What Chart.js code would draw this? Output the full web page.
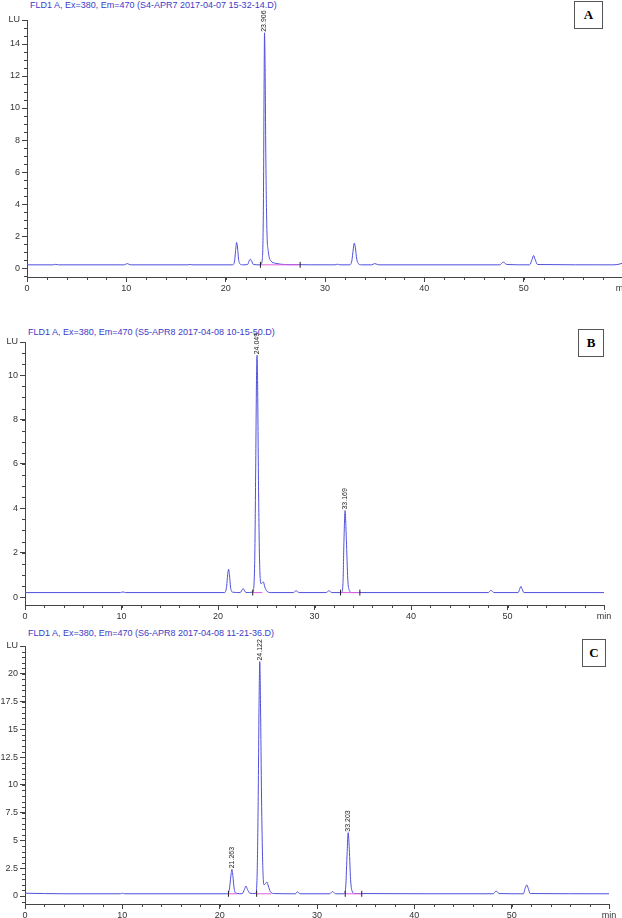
<!DOCTYPE html>
<html>
<head>
<meta charset="utf-8">
<script src="https://cdn.jsdelivr.net/npm/chart.js@4.4.0/dist/chart.umd.min.js"></script>
<style>
  html, body { margin: 0; padding: 0; background: #fff; }
  body { width: 622px; height: 918px; position: relative; overflow: hidden; font-family: "Liberation Sans", Arial, sans-serif; }
  .title { position: absolute; font-size: 9px; line-height: 10px; color: #3b3bc8; white-space: nowrap; }
  .box { position: absolute; border: 1px solid #555; box-sizing: border-box; text-align: center;
         font-family: "Liberation Serif", "Times New Roman", serif; font-weight: bold; font-size: 13px; line-height: 26px; }
  canvas { position: absolute; left: 0; }
</style>
</head>
<body>
<div class="title" style="left:30px;top:0px">FLD1 A, Ex=380, Em=470 (S4-APR7 2017-04-07 15-32-14.D)</div>
<div class="title" style="left:28px;top:327px">FLD1 A, Ex=380, Em=470 (S5-APR8 2017-04-08 10-15-50.D)</div>
<div class="title" style="left:28px;top:628px">FLD1 A, Ex=380, Em=470 (S6-APR8 2017-04-08 11-21-36.D)</div>
<div class="box" style="left:574px;top:1px;width:29px;height:28px">A</div>
<div class="box" style="left:578px;top:329px;width:26px;height:28px">B</div>
<div class="box" style="left:582px;top:639px;width:24px;height:28px">C</div>

<canvas id="chartA" width="632" height="293" style="top:0px"></canvas>
<canvas id="chartB" width="622" height="299" style="top:322px"></canvas>
<canvas id="chartC" width="622" height="294" style="top:626px"></canvas>

<script>
// ---- panel A : S4-APR7 ----
const timeA = [0, 2.6, 2.9, 3.2, 9.8, 10.1, 10.4, 16.2, 16.4, 16.6, 20.7, 20.9, 21.0, 21.1, 21.2, 21.3, 21.45, 21.7,
  22.2, 22.4, 22.5, 22.6, 22.8, 23.5, 23.7, 23.8, 23.87, 23.91, 23.97, 24.05, 24.15, 24.3, 24.55, 25.0, 26.0,
  31.0, 31.25, 31.5, 32.5, 32.7, 32.85, 32.95, 33.05, 33.2, 33.4, 33.7, 34.7, 35.0, 35.4,
  47.6, 47.95, 48.3, 50.6, 50.85, 51.0, 51.15, 51.4, 59.0, 59.6, 60];
const signalA = [0.2, 0.2, 0.23, 0.2, 0.2, 0.28, 0.2, 0.2, 0.23, 0.2, 0.2, 0.45, 1.1, 1.6, 1.25, 0.55, 0.25, 0.2,
  0.22, 0.5, 0.55, 0.45, 0.22, 0.2, 0.6, 4.0, 11.5, 14.7, 12.5, 6.5, 2.4, 1.0, 0.45, 0.3, 0.22,
  0.2, 0.24, 0.2, 0.2, 0.45, 1.2, 1.56, 1.3, 0.55, 0.25, 0.2, 0.2, 0.28, 0.2,
  0.2, 0.37, 0.22, 0.2, 0.55, 0.78, 0.55, 0.22, 0.2, 0.24, 0.32];
const peakLabelsA = ['23.906'];
const integA = [[23.5, 27.5]];
const marksA = [23.5, 27.5];
const yTicksA = [0, 2, 4, 6, 8, 10, 12, 14];
const yTopA = 15.5;

// ---- panel B : S5-APR8 ----
const timeB = [0, 9.9, 10.15, 10.4, 20.7, 20.9, 21.0, 21.1, 21.2, 21.3, 21.5, 22.3, 22.6, 22.9,
  23.6, 23.8, 23.9, 24.0, 24.05, 24.1, 24.2, 24.3, 24.45, 24.6, 24.7, 24.85, 25.1, 25.5,
  27.8, 28.1, 28.4, 31.2, 31.5, 31.8, 32.8, 32.95, 33.05, 33.17, 33.3, 33.45, 33.6, 33.9,
  48.0, 48.3, 48.6, 51.1, 51.3, 51.4, 51.5, 51.7, 60];
const signalB = [0.2, 0.2, 0.23, 0.2, 0.2, 0.5, 1.0, 1.25, 0.95, 0.45, 0.22, 0.2, 0.38, 0.2,
  0.22, 1.5, 5.5, 10.2, 10.9, 9.8, 5.0, 1.8, 0.6, 0.65, 0.68, 0.45, 0.25, 0.2,
  0.2, 0.28, 0.2, 0.2, 0.28, 0.2, 0.2, 0.6, 2.5, 3.9, 2.6, 0.8, 0.3, 0.2,
  0.2, 0.3, 0.2, 0.2, 0.4, 0.48, 0.38, 0.2, 0.2];
const peakLabelsB = ['24.049', '33.169'];
const integB = [[23.6, 24.6], [32.7, 34.7]];
const marksB = [23.6, 32.7, 34.7];
const yTicksB = [0, 2, 4, 6, 8, 10];
const yTopB = 11.5;

// ---- panel C : S6-APR8 ----
const timeC = [0, 4.0, 9.8, 10.0, 10.2, 20.8, 21.0, 21.15, 21.26, 21.38, 21.5, 21.7, 22.3, 22.55, 22.7, 22.85, 23.1,
  23.7, 23.85, 23.95, 24.05, 24.12, 24.2, 24.3, 24.42, 24.55, 24.7, 24.85, 25.0, 25.2, 25.6,
  27.8, 28.0, 28.25, 31.3, 31.6, 31.9, 32.8, 32.95, 33.1, 33.2, 33.32, 33.45, 33.6, 33.9,
  48.1, 48.4, 48.7, 51.2, 51.4, 51.55, 51.7, 51.9, 60];
const signalC = [0.25, 0.2, 0.2, 0.25, 0.2, 0.2, 0.6, 1.8, 2.4, 1.6, 0.6, 0.25, 0.2, 0.6, 0.9, 0.6, 0.25,
  0.22, 2.0, 8.0, 17.5, 21.1, 17.0, 9.0, 3.0, 1.0, 1.1, 1.26, 0.9, 0.4, 0.22,
  0.2, 0.38, 0.2, 0.2, 0.4, 0.2, 0.2, 0.8, 4.0, 5.7, 4.2, 1.5, 0.45, 0.22,
  0.2, 0.45, 0.22, 0.2, 0.75, 1.0, 0.7, 0.22, 0.2];
const peakLabelsC = ['21.263', '24.122', '33.203'];
const integC = [[20.9, 21.8], [23.8, 25.3], [32.9, 34.6]];
const marksC = [20.9, 23.8, 32.9, 34.6];
const yTicksC = [0, 2.5, 5, 7.5, 10, 12.5, 15, 17.5, 20];
const yTopC = 22.5;

const xTicks = [0, 10, 20, 30, 40, 50, 60];
const baseLevel = 0.2;

Chart.defaults.font.family = '"Liberation Sans", Arial, sans-serif';
Chart.defaults.font.size = 9;
Chart.defaults.color = '#333';

const minorTicks = {
  id: 'minorTicks',
  afterDraw(chart, args, opts) {
    const ctx = chart.ctx;
    const x = chart.scales.x, y = chart.scales.y;
    ctx.save();
    ctx.strokeStyle = '#444';
    ctx.lineWidth = 1;
    ctx.beginPath();
    for (let v = Math.ceil(x.min / opts.x) * opts.x; v <= x.max + 1e-9; v += opts.x) {
      const px = Math.round(x.getPixelForValue(v)) + 0.5;
      ctx.moveTo(px, x.top);
      ctx.lineTo(px, x.top + 3);
    }
    for (let v = Math.ceil(y.min / opts.y) * opts.y; v <= y.max + 1e-9; v += opts.y) {
      const py = Math.round(y.getPixelForValue(v)) + 0.5;
      ctx.moveTo(y.right - 3, py);
      ctx.lineTo(y.right, py);
    }
    ctx.stroke();
    ctx.restore();
  }
};

// retention time labels, written upward from each peak apex
const peakLabels = {
  id: 'peakLabels',
  afterDatasetsDraw(chart, args, opts) {
    const ds = chart.data.datasets.find(d => d.label === 'signal');
    const ctx = chart.ctx;
    ctx.save();
    ctx.fillStyle = '#222';
    ctx.font = '7px "Liberation Sans", Arial, sans-serif';
    ctx.textAlign = 'left';
    ctx.textBaseline = 'middle';
    opts.labels.forEach(lbl => {
      const rt = parseFloat(lbl);
      let best = null;
      ds.data.forEach(p => {
        if (Math.abs(p.x - rt) < 0.3 && (!best || p.y > best.y)) best = p;
      });
      const px = chart.scales.x.getPixelForValue(rt);
      const py = chart.scales.y.getPixelForValue(best.y);
      ctx.save();
      ctx.translate(px, py - 1);
      ctx.rotate(-Math.PI / 2);
      ctx.fillText(lbl, 0, 0);
      ctx.restore();
    });
    ctx.restore();
  }
};

function trace(times, values) {
  return times.map((t, i) => ({x: t, y: values[i]}));
}
function segments(ranges) {
  const out = [];
  ranges.forEach(r => {
    out.push({x: r[0], y: baseLevel}, {x: r[1], y: baseLevel}, {x: r[1], y: null});
  });
  return out;
}

function makeChart(id, p) {
  return new Chart(document.getElementById(id), {
    type: 'line',
    data: {
      datasets: [
        {
          label: 'marks',
          data: p.marks.map(t => ({x: t, y: baseLevel})),
          showLine: false,
          pointStyle: 'line',
          pointRotation: 90,
          pointRadius: 3,
          pointBorderColor: '#222',
          pointBorderWidth: 1,
          order: 0
        },
        {
          label: 'baseline',
          data: segments(p.integ),
          borderColor: '#e060e0',
          borderWidth: 1,
          pointRadius: 0,
          spanGaps: false,
          order: 1
        },
        {
          label: 'signal',
          data: trace(p.time, p.signal),
          borderColor: '#5050dc',
          borderWidth: 1,
          pointRadius: 0,
          cubicInterpolationMode: 'monotone',
          order: 2
        }
      ]
    },
    options: {
      responsive: false,
      animation: false,
      events: [],
      layout: {padding: {top: 20, left: 0, right: p.padRight, bottom: 0}},
      plugins: {
        legend: {display: false},
        tooltip: {enabled: false},
        minorTicks: {x: 2, y: 0.5},
        peakLabels: {labels: p.labels}
      },
      scales: {
        x: {
          type: 'linear',
          min: 0,
          max: 60,
          afterFit: s => { s.height = 16; },
          afterBuildTicks: s => { s.ticks = xTicks.map(v => ({value: v})); },
          ticks: {
            autoSkip: false,
            maxRotation: 0,
            padding: 1,
            callback: v => (v === 60 ? 'min' : String(v))
          },
          grid: {display: true, drawOnChartArea: false, tickLength: 5, color: '#444'},
          border: {display: true, color: '#444'}
        },
        y: {
          type: 'linear',
          min: p.yMin,
          max: p.yTop,
          afterFit: s => { s.width = p.axisLeft; },
          afterBuildTicks: s => { s.ticks = p.yTicks.concat([p.yTop]).map(v => ({value: v})); },
          ticks: {
            autoSkip: false,
            padding: 2,
            callback: v => (v === p.yTop ? 'LU' : String(v))
          },
          grid: {display: true, drawOnChartArea: false, tickLength: 5, color: '#444'},
          border: {display: true, color: '#444'}
        }
      }
    },
    plugins: [minorTicks, peakLabels]
  });
}

makeChart('chartA', {time: timeA, signal: signalA, labels: peakLabelsA, integ: integA, marks: marksA,
  yTicks: yTicksA, yTop: yTopA, yMin: -0.56, axisLeft: 27, padRight: 9});
makeChart('chartB', {time: timeB, signal: signalB, labels: peakLabelsB, integ: integB, marks: marksB,
  yTicks: yTicksB, yTop: yTopB, yMin: -0.36, axisLeft: 25, padRight: 18});
makeChart('chartC', {time: timeC, signal: signalC, labels: peakLabelsC, integ: integC, marks: marksC,
  yTicks: yTicksC, yTop: yTopC, yMin: -0.72, axisLeft: 25, padRight: 13});
</script>
</body>
</html>
